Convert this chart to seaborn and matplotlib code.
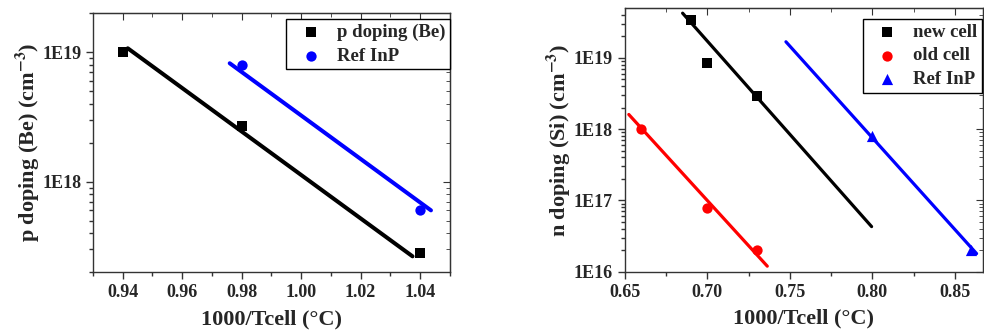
import numpy as np
import seaborn as sns
import matplotlib
matplotlib.use('Agg')
import matplotlib.pyplot as plt
from matplotlib.ticker import MultipleLocator, LogLocator, NullFormatter, FuncFormatter

# left panel: p doping (Be)
p_be_x = [0.94, 0.98, 1.04]
p_be_y = [1.0e19, 2.7e18, 2.8e17]
p_ref_x = [0.98, 1.04]
p_ref_y = [8.0e18, 6.0e17]
# fitted lines (end points)
p_be_fit_x = [0.9417, 1.0375]
p_be_fit_y = [1.07e19, 2.65e17]
p_ref_fit_x = [0.976, 1.0437]
p_ref_fit_y = [8.2e18, 6.0e17]

# right panel: n doping (Si)
n_new_x = [0.69, 0.70, 0.73]
n_new_y = [3.4e19, 8.5e18, 2.9e18]
n_old_x = [0.66, 0.70, 0.73]
n_old_y = [1.0e18, 7.9e16, 2.0e16]
n_ref_x = [0.80, 0.86]
n_ref_y = [8.1e17, 2.05e16]
n_new_fit_x = [0.685, 0.7995]
n_new_fit_y = [4.2e19, 4.3e16]
n_old_fit_x = [0.6524, 0.7363]
n_old_fit_y = [1.6e18, 1.2e16]
n_ref_fit_x = [0.7476, 0.8631]
n_ref_fit_y = [1.67e19, 1.8e16]

sns.set_style('ticks')
plt.rcParams['font.family'] = ['Liberation Serif', 'DejaVu Serif']
plt.rcParams['font.weight'] = 'bold'
plt.rcParams['axes.labelweight'] = 'bold'
plt.rcParams['mathtext.fontset'] = 'stix'

SPINE = '#333333'


def style_axes(ax, xmaj, xmin):
    ax.set_yscale('log')
    ax.xaxis.set_major_locator(MultipleLocator(xmaj))
    ax.xaxis.set_minor_locator(MultipleLocator(xmin))
    ax.xaxis.set_major_formatter(FuncFormatter(lambda v, p: f"{v:.2f}"))
    ax.yaxis.set_major_locator(LogLocator(base=10))
    ax.yaxis.set_minor_locator(LogLocator(base=10, subs=np.arange(2, 10)))
    ax.yaxis.set_minor_formatter(NullFormatter())
    ax.yaxis.set_major_formatter(FuncFormatter(lambda v, p: f"1E{int(round(np.log10(v)))}"))
    ax.tick_params(which='major', direction='out', length=5, width=1, labelsize=13, color=SPINE)
    ax.tick_params(which='minor', direction='out', length=3, width=1, color=SPINE)
    for s in ax.spines.values():
        s.set_visible(True)
        s.set_linewidth(1.0)
        s.set_color(SPINE)
    # mirrored inward ticks on top and right, Origin style
    top = ax.secondary_xaxis('top')
    top.xaxis.set_major_locator(MultipleLocator(xmaj))
    top.xaxis.set_minor_locator(MultipleLocator(xmin))
    top.tick_params(which='major', direction='in', length=5, labeltop=False, color=SPINE)
    top.tick_params(which='minor', direction='in', length=3, color=SPINE)
    right = ax.secondary_yaxis('right')
    right.yaxis.set_major_locator(LogLocator(base=10))
    right.yaxis.set_minor_locator(LogLocator(base=10, subs=np.arange(2, 10)))
    right.tick_params(which='major', direction='in', length=5, labelright=False, color=SPINE)
    right.tick_params(which='minor', direction='in', length=3, labelright=False, color=SPINE)


def add_legend(ax, anchor):
    ax.legend(loc='upper right', bbox_to_anchor=anchor, borderaxespad=0,
              frameon=True, fancybox=False, edgecolor='black', framealpha=1,
              handlelength=2.07, handletextpad=0.35, borderpad=0.25,
              labelspacing=0.35, prop={'weight': 'bold', 'size': 13.5})


fig = plt.figure(figsize=(9.84, 3.36), dpi=100)
ax1 = fig.add_axes([0.0945, 0.19, 0.3625, 0.771])
ax2 = fig.add_axes([0.635, 0.191, 0.364, 0.784])

# left panel
sns.lineplot(x=p_be_fit_x, y=p_be_fit_y, ax=ax1, color='black', lw=2.9, zorder=2)
sns.lineplot(x=p_ref_fit_x, y=p_ref_fit_y, ax=ax1, color='#0000ff', lw=2.9, zorder=2)
sns.scatterplot(x=p_be_x, y=p_be_y, ax=ax1, marker='s', s=45, color='black',
                linewidth=0, label='p doping (Be)', zorder=3)
sns.scatterplot(x=p_ref_x, y=p_ref_y, ax=ax1, marker='o', s=55, color='#0000ff',
                linewidth=0, label='Ref InP', zorder=3)
ax1.set_xlim(0.93, 1.05)
ax1.set_ylim(2e17, 2e19)
style_axes(ax1, 0.02, 0.01)
ax1.set_xlabel('1000/Tcell (°C)', fontsize=16, labelpad=6)
ax1.set_ylabel(r'p doping (Be) (cm$^{\mathbf{-3}}$)', fontsize=16, labelpad=0)
add_legend(ax1, (1.0, 0.977))

# right panel
sns.lineplot(x=n_new_fit_x, y=n_new_fit_y, ax=ax2, color='black', lw=2.3, zorder=2)
sns.lineplot(x=n_old_fit_x, y=n_old_fit_y, ax=ax2, color='#ff0000', lw=2.3, zorder=2)
sns.lineplot(x=n_ref_fit_x, y=n_ref_fit_y, ax=ax2, color='#0000ff', lw=2.3, zorder=2)
sns.scatterplot(x=n_new_x, y=n_new_y, ax=ax2, marker='s', s=45, color='black',
                linewidth=0, label='new cell', zorder=3)
sns.scatterplot(x=n_old_x, y=n_old_y, ax=ax2, marker='o', s=55, color='#ff0000',
                linewidth=0, label='old cell', zorder=3)
sns.scatterplot(x=n_ref_x, y=n_ref_y, ax=ax2, marker='^', s=65, color='#0000ff',
                linewidth=0, label='Ref InP', zorder=3)
ax2.set_xlim(0.65, 0.867)
ax2.set_ylim(1e16, 4.9e19)
style_axes(ax2, 0.05, 0.025)
ax2.set_xlabel('1000/Tcell (°C)', fontsize=16, labelpad=6)
ax2.set_ylabel(r'n doping (Si) (cm$^{\mathbf{-3}}$)', fontsize=16, labelpad=1)
add_legend(ax2, (0.997, 0.96))

plt.savefig('out.png', dpi=100)
plt.close()
